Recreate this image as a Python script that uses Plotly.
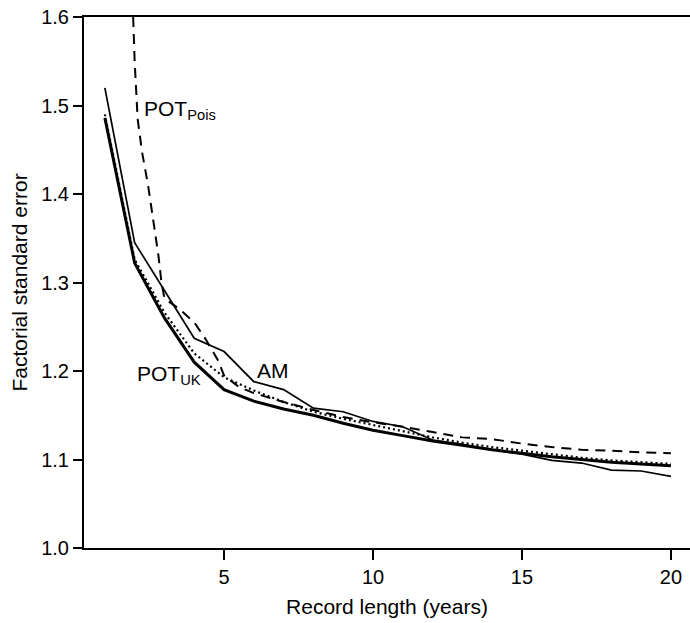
import plotly.graph_objects as go

years = list(range(1, 21))

am = [1.520, 1.345, 1.291, 1.237, 1.222, 1.188, 1.179, 1.158, 1.154, 1.143,
      1.137, 1.122, 1.117, 1.111, 1.106, 1.099, 1.096, 1.088, 1.087, 1.081]

pot_uk = [1.486, 1.322, 1.260, 1.210, 1.179, 1.166, 1.157, 1.150, 1.141, 1.133,
          1.127, 1.121, 1.116, 1.111, 1.107, 1.103, 1.100, 1.097, 1.095, 1.093]

dotted = [1.490, 1.326, 1.266, 1.220, 1.193, 1.178, 1.165, 1.154, 1.146, 1.139,
          1.132, 1.125, 1.119, 1.114, 1.110, 1.106, 1.102, 1.099, 1.097, 1.095]

pois_x = [1.95, 2.0, 2.1, 2.25, 2.45, 2.65, 2.8, 2.9, 3.0, 3.5, 4.0, 4.4, 4.8, 5.0,
          5.5, 6, 7, 8, 9, 10, 11, 12, 13, 14, 15, 16, 17, 18, 19, 20]
pois_y = [1.600, 1.550, 1.485, 1.447, 1.410, 1.365, 1.330, 1.300, 1.282, 1.270,
          1.255, 1.235, 1.212, 1.195, 1.182, 1.175, 1.165, 1.156, 1.148, 1.142,
          1.137, 1.131, 1.125, 1.123, 1.118, 1.114, 1.111, 1.110, 1.108, 1.107]

y_ticks = [1.0, 1.1, 1.2, 1.3, 1.4, 1.5, 1.6]
x_ticks = [5, 10, 15, 20]

FONT = "Liberation Sans, Arial, Helvetica, sans-serif"

fig = go.Figure()
fig.add_trace(go.Scatter(x=years, y=dotted, mode="lines",
                         line=dict(color="black", width=2.2, dash="2px,3px")))
fig.add_trace(go.Scatter(x=pois_x, y=pois_y, mode="lines",
                         line=dict(color="black", width=2, dash="10px,7px")))
fig.add_trace(go.Scatter(x=years, y=am, mode="lines",
                         line=dict(color="black", width=1.7)))
fig.add_trace(go.Scatter(x=years, y=pot_uk, mode="lines",
                         line=dict(color="black", width=3)))

fig.add_annotation(x=2.25, y=1.495, xref="x", yref="y", xanchor="left", yanchor="middle",
                   text="POT<sub>Pois</sub>", showarrow=False,
                   font=dict(family=FONT, size=21, color="black"))
fig.add_annotation(x=6.03, y=1.201, xref="x", yref="y", xanchor="left", yanchor="middle",
                   text="AM", showarrow=False,
                   font=dict(family=FONT, size=21, color="black"))
fig.add_annotation(x=2.02, y=1.196, xref="x", yref="y", xanchor="left", yanchor="middle",
                   text="POT<sub>UK</sub>", showarrow=False,
                   font=dict(family=FONT, size=21, color="black"))

fig.update_layout(
    width=690, height=623,
    margin=dict(l=84, r=0, t=17, b=75),
    paper_bgcolor="white", plot_bgcolor="white",
    showlegend=False,
    font=dict(family=FONT, size=20, color="black"),
    xaxis=dict(range=[0.30, 20.64], tickvals=x_ticks, ticks="outside", ticklen=10,
               tickwidth=2, tickcolor="black", showline=True, linecolor="black",
               linewidth=2, mirror=True, showgrid=False, zeroline=False,
               tickfont=dict(size=20),
               title=dict(text="Record length (years)", standoff=12,
                          font=dict(size=21))),
    yaxis=dict(range=[1.0, 1.6], tickvals=y_ticks, tickformat=".1f", ticks="outside",
               ticklen=9, tickwidth=2, tickcolor="black", showline=True,
               linecolor="black", linewidth=2, showgrid=False, zeroline=False,
               tickfont=dict(size=20),
               title=dict(text="Factorial standard error", standoff=8,
                          font=dict(size=21))),
)

fig.write_html("out.html")
